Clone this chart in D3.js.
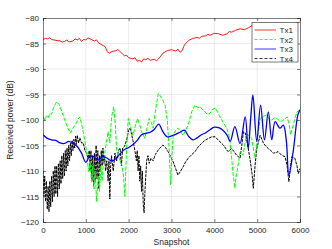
<!DOCTYPE html>
<html><head><meta charset="utf-8">
<script src="https://cdn.jsdelivr.net/npm/d3@7"></script>
<style>body{margin:0;background:#fff}svg{display:block}text{font-family:"Liberation Sans",Arial,sans-serif;fill:#262626}</style>
</head><body><svg id="c" width="332" height="249"></svg>
<script>
const xTicks=[0,1000,2000,3000,4000,5000,6000];
const yTicks=[-120,-115,-110,-105,-100,-95,-90,-85,-80];
const seriesNames=["Tx1","Tx2","Tx3","Tx4"];
const tx1=[[0,-84.2],[60,-84.0],[100,-84.1],[150,-83.9],[200,-84.2],[300,-84.4],[400,-84.5],[450,-84.7],[500,-84.6],[560,-84.3],[600,-84.7],[700,-84.5],[750,-84.1],[800,-84.3],[850,-84.0],[900,-84.6],[950,-84.2],[1000,-84.3],[1050,-83.9],[1100,-84.1],[1200,-84.5],[1250,-84.3],[1300,-84.9],[1400,-85.4],[1450,-85.6],[1500,-86.6],[1550,-86.9],[1600,-86.6],[1700,-86.4],[1750,-86.2],[1800,-86.6],[1900,-87.4],[1950,-87.3],[2000,-87.8],[2100,-88.0],[2150,-87.8],[2200,-88.5],[2250,-88.3],[2300,-88.6],[2350,-88.0],[2400,-88.2],[2450,-87.9],[2500,-88.3],[2600,-88.1],[2650,-88.4],[2700,-88.0],[2800,-86.9],[2900,-86.4],[3000,-86.2],[3100,-86.5],[3150,-86.1],[3200,-86.7],[3250,-86.4],[3300,-85.3],[3400,-84.4],[3500,-84.0],[3600,-83.8],[3650,-84.0],[3700,-83.6],[3800,-83.5],[3850,-83.2],[3900,-83.4],[4000,-83.0],[4100,-83.1],[4200,-83.4],[4300,-83.1],[4350,-82.6],[4400,-82.8],[4500,-82.4],[4600,-82.1],[4700,-82.3],[4800,-81.9],[4900,-81.4],[5000,-81.2],[5100,-81.1],[5200,-81.0],[5300,-81.2],[5400,-81.0],[5500,-81.1],[5600,-81.0],[5700,-81.3],[5800,-81.2],[5900,-81.0],[6000,-80.8]];
const tx2=[[0,-99.3],[40,-100],[80,-99.2],[120,-99.6],[160,-98.7],[200,-98.9],[250,-97.5],[320,-96.4],[380,-97],[440,-98.4],[530,-100.5],[630,-102.6],[700,-101.6],[750,-101],[820,-99.8],[860,-99.4],[920,-101.5],[980,-104.2],[1030,-107],[1060,-110.1],[1100,-108],[1130,-112],[1160,-109],[1190,-113.5],[1220,-110],[1250,-116],[1290,-111],[1320,-114],[1350,-109],[1380,-112],[1400,-109.4],[1450,-106],[1520,-102.3],[1560,-104.5],[1600,-99.5],[1650,-97.4],[1690,-101],[1720,-106.2],[1780,-107.5],[1840,-108.8],[1880,-111],[1910,-115],[1950,-106],[1990,-99.7],[2050,-101.5],[2100,-103],[2160,-101],[2210,-99.7],[2260,-101],[2300,-102.3],[2380,-103.6],[2430,-101.5],[2480,-99.7],[2530,-100.5],[2570,-101.6],[2620,-98.5],[2690,-94.8],[2740,-95.3],[2800,-96.2],[2850,-97.1],[2900,-100],[2940,-105],[2980,-112.7],[3010,-107],[3040,-103],[3100,-102],[3150,-101.6],[3210,-102.2],[3270,-103],[3330,-102],[3390,-101],[3470,-98.4],[3550,-97.1],[3610,-97.6],[3670,-97.4],[3730,-98],[3780,-98.4],[3840,-98.9],[3900,-98.7],[3960,-97.9],[4020,-97.7],[4080,-98.5],[4130,-99.4],[4200,-100.4],[4290,-101.6],[4340,-103],[4370,-104.6],[4410,-108],[4440,-110.8],[4480,-113.4],[4500,-111.5],[4530,-110.1],[4570,-108],[4600,-106.3],[4670,-106.9],[4750,-102.9],[4810,-103],[4870,-103.6],[4950,-107.5],[5000,-104],[5070,-99.7],[5140,-99.3],[5220,-99],[5280,-99.8],[5340,-100],[5400,-99.6],[5460,-99.7],[5520,-100.2],[5570,-100.3],[5640,-99.8],[5700,-99.4],[5750,-101],[5780,-102.9],[5840,-101],[5890,-99.5],[5930,-98.4],[6000,-98]];
const tx3=[[0,-102.9],[100,-103.6],[200,-103.9],[300,-104.0],[400,-104.5],[500,-104.6],[600,-104.2],[700,-104.6],[800,-105.2],[900,-106.5],[1000,-108.3],[1100,-107.0],[1200,-107.3],[1300,-107.8],[1400,-107.2],[1500,-107.5],[1600,-108.0],[1700,-107.6],[1800,-106.6],[1900,-105.8],[2000,-105.4],[2100,-104.8],[2200,-104.0],[2300,-102.9],[2400,-102.6],[2500,-102.4],[2600,-101.8],[2700,-100.8],[2800,-102.3],[2900,-103.3],[3000,-103.1],[3100,-102.8],[3200,-102.4],[3300,-102.0],[3400,-103.2],[3500,-103.9],[3600,-103.5],[3700,-102.9],[3800,-102.5],[3900,-101.9],[4000,-101.4],[4100,-101.5],[4200,-102.0],[4300,-103.0],[4370,-104.2],[4480,-101.3],[4600,-104.6],[4720,-99.4],[4790,-105.6],[4850,-99.5],[4900,-95.1],[4990,-104.2],[5080,-97.1],[5170,-103.9],[5260,-98.4],[5340,-103.9],[5420,-100.3],[5530,-101.6],[5610,-101.0],[5680,-104],[5740,-110.8],[5840,-106.2],[5950,-99.0],[6000,-98.0]];
const tx4=[[0,-110],[20,-115],[40,-111],[60,-116],[80,-112],[100,-117.5],[120,-113],[140,-118],[160,-112],[180,-117],[200,-111],[220,-116],[240,-110],[260,-115],[280,-109],[300,-114.5],[320,-109],[340,-115],[360,-108.5],[380,-113.5],[400,-108],[420,-112.5],[440,-107],[460,-111.5],[480,-106.5],[500,-111],[520,-106],[540,-110],[560,-105.5],[580,-109],[600,-105],[620,-108],[640,-104.5],[660,-107],[680,-104],[700,-106],[720,-103.8],[740,-105.5],[760,-103.2],[780,-104.8],[800,-103],[830,-104.5],[860,-103.5],[900,-104.5],[940,-104.5],[980,-106],[1020,-106.5],[1050,-107.5],[1080,-106],[1100,-110],[1120,-106],[1140,-112],[1160,-107],[1180,-113],[1200,-106.5],[1220,-112],[1240,-105],[1260,-111.5],[1280,-106],[1300,-113.5],[1320,-107],[1340,-110],[1360,-106],[1380,-109],[1400,-105.5],[1420,-108.5],[1440,-107],[1460,-110],[1490,-108],[1520,-112],[1540,-108],[1560,-115.5],[1580,-109],[1600,-107],[1640,-110],[1680,-106.5],[1720,-108],[1760,-106],[1800,-105.5],[1830,-109],[1860,-105.5],[1900,-105.2],[1950,-104],[2000,-102],[2030,-101.6],[2060,-102.5],[2100,-104],[2150,-106.2],[2180,-108],[2200,-106],[2220,-110],[2240,-107],[2260,-112],[2280,-109],[2300,-114],[2320,-110],[2340,-116.5],[2360,-118.2],[2380,-114],[2400,-111],[2420,-108],[2450,-107],[2480,-108.5],[2520,-107.5],[2570,-108],[2620,-106.8],[2690,-105.9],[2750,-105.3],[2800,-104.9],[2860,-105.4],[2920,-106.2],[2980,-107.2],[3040,-108.2],[3100,-109.6],[3150,-110.8],[3200,-110.2],[3270,-109.2],[3330,-108.2],[3390,-107.5],[3470,-106.8],[3550,-106.2],[3620,-105.3],[3700,-104.6],[3780,-104],[3860,-103.6],[3940,-103.3],[4020,-103.3],[4100,-104],[4210,-104.9],[4320,-106.2],[4400,-105.6],[4460,-106.2],[4520,-106.9],[4600,-107.5],[4640,-105],[4680,-102.3],[4720,-102.5],[4750,-103.6],[4790,-105.5],[4830,-107.5],[4880,-110.5],[4910,-113.4],[4950,-109],[4990,-105.6],[5070,-103],[5150,-104.6],[5210,-105.2],[5260,-105.6],[5320,-106],[5380,-106.5],[5440,-106.4],[5490,-106.2],[5570,-106.9],[5650,-107.2],[5700,-109],[5740,-112.1],[5780,-109],[5810,-107.2],[5880,-107.5],[5930,-109],[5960,-110.5],[6000,-109.5]];

const svg=d3.select("#c");
const m={l:43,r:300,t:18,b:222};
const x=d3.scaleLinear().domain([0,6000]).range([m.l,m.r]);
const y=d3.scaleLinear().domain([-120,-80]).range([m.b,m.t]);
const axc="#262626";
const g=svg.append("g");
g.selectAll(".gx").data(xTicks.slice(1,-1)).join("line").attr("x1",d=>x(d)).attr("x2",d=>x(d)).attr("y1",m.t).attr("y2",m.b).attr("stroke","#dfdfdf").attr("stroke-width",0.6);
g.selectAll(".gy").data(yTicks.slice(1,-1)).join("line").attr("y1",d=>y(d)).attr("y2",d=>y(d)).attr("x1",m.l).attr("x2",m.r).attr("stroke","#dfdfdf").attr("stroke-width",0.6);
svg.append("clipPath").attr("id","clip").append("rect").attr("x",m.l).attr("y",m.t).attr("width",m.r-m.l).attr("height",m.b-m.t);
const lin=d3.line().x(d=>x(d[0])).y(d=>y(d[1]));
const smooth=d3.line().x(d=>x(d[0])).y(d=>y(d[1])).curve(d3.curveCatmullRom);
const plot=svg.append("g").attr("clip-path","url(#clip)");
plot.append("path").datum(tx4).attr("d",lin).attr("fill","none").attr("stroke","#000").attr("stroke-width",1.0).attr("stroke-dasharray","3,1");
plot.append("path").datum(tx2).attr("d",lin).attr("fill","none").attr("stroke","#00ff00").attr("stroke-width",1.0).attr("stroke-dasharray","4,1.5");
plot.append("path").datum(tx3).attr("d",smooth).attr("fill","none").attr("stroke","#0000ff").attr("stroke-width",1.3);
plot.append("path").datum(tx1).attr("d",lin).attr("fill","none").attr("stroke","#ff0000").attr("stroke-width",0.9);
const xa=svg.append("g").attr("transform",`translate(0,${m.b})`).call(d3.axisBottom(x).tickValues(xTicks).tickSize(-3).tickPadding(5).tickFormat(d3.format("d")));
const ya=svg.append("g").attr("transform",`translate(${m.l},0)`).call(d3.axisLeft(y).tickValues(yTicks).tickSize(-3).tickPadding(4).tickFormat(d3.format("d")));
const xt=svg.append("g").attr("transform",`translate(0,${m.t})`).call(d3.axisTop(x).tickValues(xTicks).tickSize(-3).tickFormat(""));
const yr=svg.append("g").attr("transform",`translate(${m.r},0)`).call(d3.axisRight(y).tickValues(yTicks).tickSize(-3).tickFormat(""));
[xa,ya,xt,yr].forEach(a=>{a.selectAll("path,line").attr("stroke",axc).attr("stroke-width",0.6);a.selectAll("text").attr("font-size",8).attr("fill",axc).style("font-family","Liberation Sans, Arial, sans-serif");});
svg.append("text").attr("x",(m.l+m.r)/2).attr("y",245).attr("text-anchor","middle").attr("font-size",8.5).text("Snapshot");
svg.append("text").attr("transform",`translate(13,${(m.t+m.b)/2}) rotate(-90)`).attr("text-anchor","middle").attr("font-size",8.5).text("Received power (dB)");
const leg=svg.append("g");
leg.append("rect").attr("x",252).attr("y",22.5).attr("width",46).attr("height",39.5).attr("fill","#fff").attr("stroke",axc).attr("stroke-width",0.6);
const lstyle=[{c:"#ff0000",d:null},{c:"#00ff00",d:"3,2"},{c:"#0000ff",d:null},{c:"#000",d:"3,2"}];
const ly=d3.scalePoint().domain(seriesNames).range([30,58.5]);
seriesNames.forEach((n,i)=>{
  leg.append("line").attr("x1",254.5).attr("x2",276).attr("y1",ly(n)).attr("y2",ly(n)).attr("stroke",lstyle[i].c).attr("stroke-width",0.8).attr("stroke-dasharray",lstyle[i].d);
  leg.append("text").attr("x",279.5).attr("y",ly(n)+3).attr("font-size",8).text(n);
});
</script></body></html>
